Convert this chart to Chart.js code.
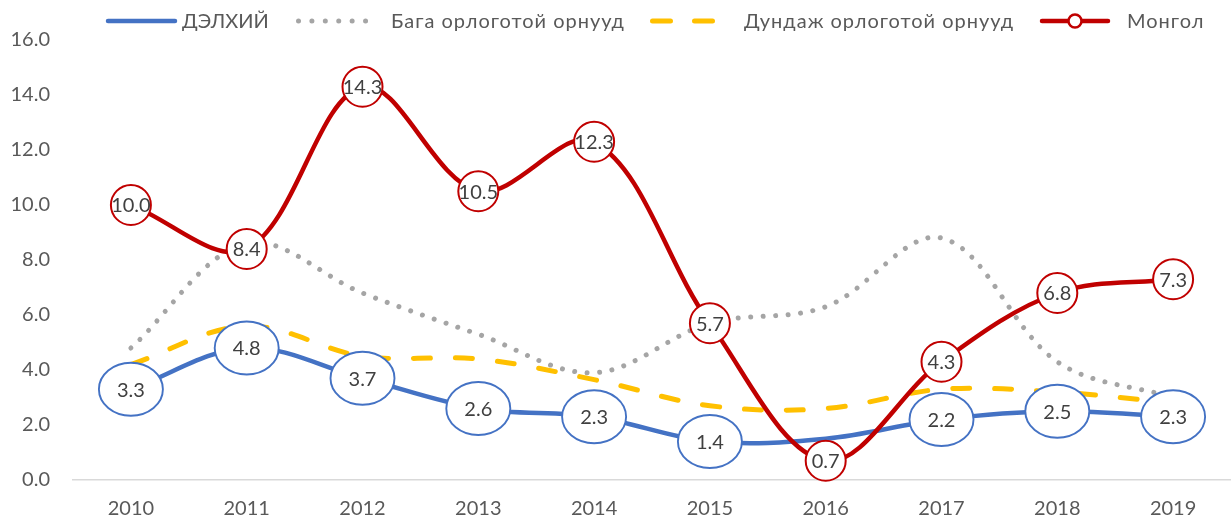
<!DOCTYPE html>
<html><head><meta charset="utf-8">
<script src="https://cdn.jsdelivr.net/npm/chart.js@4"></script>
<style>html,body{margin:0;padding:0;background:#fff}#wrap{width:1231px;height:522px}</style>
</head><body><div id="wrap"><canvas id="c" width="1231" height="522"></canvas></div>
<script>
// ---- data ----
const years = ['2010','2011','2012','2013','2014','2015','2016','2017','2018','2019'];
const world = [3.3, 4.8, 3.7, 2.6, 2.3, 1.4, 1.5, 2.2, 2.5, 2.3];
const worldLabelShown = [true, true, true, true, true, true, false, true, true, true];
const lowIncome = [4.8, 8.6, 6.8, 5.3, 3.9, 5.7, 6.3, 8.8, 4.3, 3.0];
const middleIncome = [4.2, 5.6, 4.5, 4.4, 3.65, 2.7, 2.6, 3.3, 3.2, 2.8];
const mongolia = [10.0, 8.4, 14.3, 10.5, 12.3, 5.7, 0.7, 4.3, 6.8, 7.3];
const seriesNames = ['ДЭЛХИЙ', 'Бага орлоготой орнууд', 'Дундаж орлоготой орнууд', 'Монгол'];
const yMin = 0, yMax = 16, yStep = 2;

const FONT = 'Lato, "Noto Sans", sans-serif';
const BLUE = '#4472C4', GRAY = '#A5A5A5', YELLOW = '#FFC000', RED = '#C00000';

const legendPlugin = {
  id: 'customLegend',
  afterDraw(chart) {
    const ctx = chart.ctx, y = 21;
    ctx.save();
    ctx.lineCap = 'round';
    ctx.strokeStyle = BLUE; ctx.lineWidth = 4.5; ctx.setLineDash([]);
    ctx.beginPath(); ctx.moveTo(108, y); ctx.lineTo(175, y); ctx.stroke();
    ctx.strokeStyle = GRAY; ctx.lineWidth = 5; ctx.setLineDash([0.01, 13.4]);
    ctx.beginPath(); ctx.moveTo(298.5, y); ctx.lineTo(366, y); ctx.stroke();
    ctx.strokeStyle = YELLOW; ctx.lineWidth = 5; ctx.setLineDash([18, 24]);
    ctx.beginPath(); ctx.moveTo(652.5, y); ctx.lineTo(714, y); ctx.stroke();
    ctx.strokeStyle = RED; ctx.lineWidth = 4.5; ctx.setLineDash([]);
    ctx.beginPath(); ctx.moveTo(1042, y); ctx.lineTo(1108, y); ctx.stroke();
    ctx.beginPath(); ctx.arc(1075, y, 6.5, 0, Math.PI * 2);
    ctx.fillStyle = '#fff'; ctx.fill(); ctx.lineWidth = 2.5; ctx.stroke();
    ctx.fillStyle = '#595959'; ctx.font = '20px ' + FONT;
    ctx.textBaseline = 'middle'; ctx.textAlign = 'left';
    const xs = [182, 391, 744, 1127];
    const spacing = ['0px', '1px', '1px', '1px'];
    seriesNames.forEach((n, i) => { ctx.letterSpacing = spacing[i]; ctx.fillText(n, xs[i], y + 1); });
    ctx.restore();
  }
};

const labelPlugin = {
  id: 'bubbleLabels',
  afterDatasetsDraw(chart) {
    const ctx = chart.ctx;
    ctx.save();
    ctx.font = '20px ' + FONT;
    ctx.textAlign = 'center'; ctx.textBaseline = 'middle';
    const mw = chart.getDatasetMeta(0);
    mw.data.forEach((pt, i) => {
      if (!worldLabelShown[i]) return;
      ctx.beginPath(); ctx.ellipse(pt.x, pt.y, 32, 26.5, 0, 0, Math.PI * 2);
      ctx.fillStyle = '#fff'; ctx.fill();
      ctx.strokeStyle = BLUE; ctx.lineWidth = 1.9; ctx.stroke();
      ctx.fillStyle = '#404040'; ctx.fillText(world[i].toFixed(1), pt.x, pt.y + 1);
    });
    const mm = chart.getDatasetMeta(3);
    mm.data.forEach((pt, i) => {
      ctx.beginPath(); ctx.arc(pt.x, pt.y, 20, 0, Math.PI * 2);
      ctx.fillStyle = '#fff'; ctx.fill();
      ctx.strokeStyle = RED; ctx.lineWidth = 2; ctx.stroke();
      ctx.fillStyle = '#404040'; ctx.fillText(mongolia[i].toFixed(1), pt.x, pt.y + 1);
    });
    ctx.restore();
  }
};

new Chart(document.getElementById('c'), {
  type: 'line',
  data: {
    labels: years,
    datasets: [
      { label: seriesNames[0], data: world, borderColor: BLUE, borderWidth: 4.5, pointRadius: 0, order: 3, borderCapStyle: 'round' },
      { label: seriesNames[1], data: lowIncome, borderColor: GRAY, borderWidth: 5, borderDash: [0.01, 12.5], borderCapStyle: 'round', pointRadius: 0, order: 2 },
      { label: seriesNames[2], data: middleIncome, borderColor: YELLOW, borderWidth: 5, borderDash: [17, 25], borderCapStyle: 'round', pointRadius: 0, order: 1 },
      { label: seriesNames[3], data: mongolia, borderColor: RED, borderWidth: 4.5, pointRadius: 6, pointBackgroundColor: '#fff', pointBorderColor: RED, order: 0, borderCapStyle: 'round' }
    ]
  },
  options: {
    responsive: false,
    devicePixelRatio: 1,
    animation: false,
    elements: { line: { tension: 0.35 } },
    layout: { autoPadding: false, padding: { top: 40, left: 0, right: 0, bottom: 0 } },
    plugins: { legend: { display: false }, tooltip: { enabled: false } },
    scales: {
      x: {
        offset: true,
        grid: { display: false, drawTicks: false },
        border: { display: true, color: '#D9D9D9', width: 1.5 },
        ticks: { color: '#595959', font: { family: FONT, size: 20 }, padding: 17, maxRotation: 0 },
        afterFit(s) { s.height = 42; s.paddingLeft = 0; s.paddingRight = 0; }
      },
      y: {
        min: yMin, max: yMax,
        grid: { display: false, drawTicks: false },
        border: { display: false },
        ticks: { stepSize: yStep, color: '#595959', font: { family: FONT, size: 20 }, padding: 23,
                 callback: v => Number(v).toFixed(1) },
        afterFit(s) { s.width = 73; }
      }
    }
  },
  plugins: [legendPlugin, labelPlugin]
});
</script></body></html>
